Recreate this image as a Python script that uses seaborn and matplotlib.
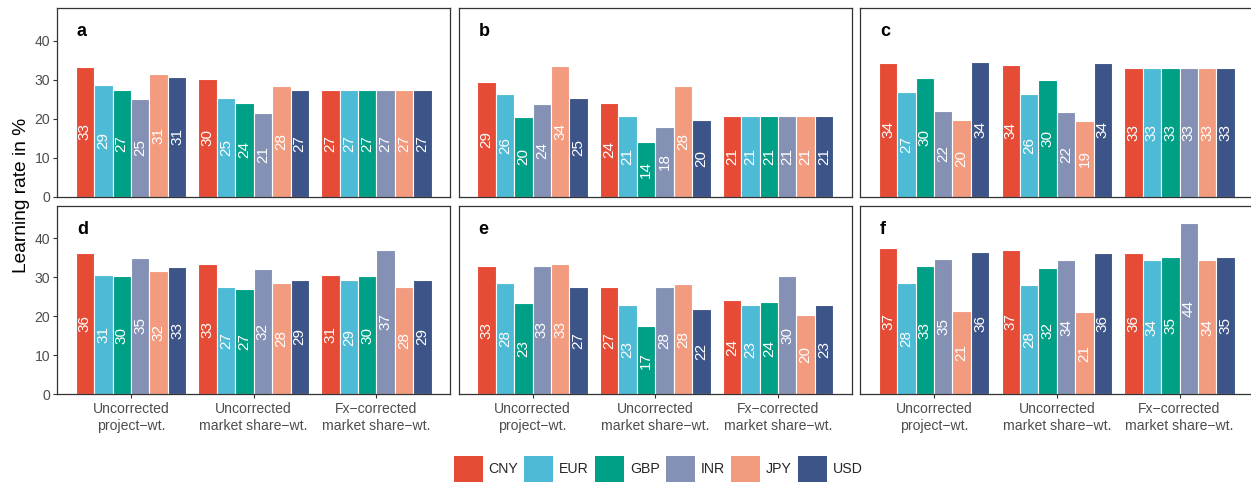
import matplotlib
matplotlib.use("Agg")
import matplotlib.pyplot as plt
from matplotlib.patches import Patch
import pandas as pd
import seaborn as sns

# Categories
currencies = ["CNY", "EUR", "GBP", "INR", "JPY", "USD"]
weightings = [
    "Uncorrected\nproject\u2212wt.",
    "Uncorrected\nmarket share\u2212wt.",
    "Fx\u2212corrected\nmarket share\u2212wt.",
]
palette = ["#E64B35", "#4DBBD5", "#00A087", "#8491B4", "#F39B7F", "#3C5488"]

# Learning rates (%) per panel: one row per weighting scheme, one column per currency
panel_a = [
    [33.3, 28.7, 27.4, 24.9, 31.4, 30.7],
    [30.2, 25.4, 24.0, 21.4, 28.4, 27.4],
    [27.4, 27.4, 27.4, 27.4, 27.4, 27.4],
]
panel_b = [
    [29.4, 26.4, 20.4, 23.8, 33.6, 25.4],
    [24.0, 20.7, 14.0, 17.9, 28.4, 19.7],
    [20.7, 20.7, 20.7, 20.7, 20.7, 20.7],
]
panel_c = [
    [34.3, 26.9, 30.4, 22.0, 19.7, 34.4],
    [33.8, 26.4, 30.0, 21.6, 19.4, 34.3],
    [33.1, 33.1, 33.1, 33.1, 33.1, 33.1],
]
panel_d = [
    [36.3, 30.6, 30.2, 35.0, 31.6, 32.6],
    [33.3, 27.4, 26.9, 32.0, 28.4, 29.4],
    [30.7, 29.2, 30.2, 37.1, 27.6, 29.4],
]
panel_e = [
    [32.8, 28.4, 23.3, 33.0, 33.3, 27.4],
    [27.4, 22.8, 17.4, 27.6, 28.2, 21.8],
    [24.1, 22.8, 23.6, 30.2, 20.2, 22.8],
]
panel_f = [
    [37.4, 28.4, 32.8, 34.8, 21.4, 36.4],
    [37.1, 27.9, 32.4, 34.4, 21.0, 36.1],
    [36.3, 34.3, 35.3, 44.0, 34.4, 35.1],
]
panels = {"a": panel_a, "b": panel_b, "c": panel_c,
          "d": panel_d, "e": panel_e, "f": panel_f}

rows = []
for key, table in panels.items():
    for w, vals in zip(weightings, table):
        for cur, v in zip(currencies, vals):
            rows.append({"panel": key, "weighting": w, "currency": cur, "value": v})
df = pd.DataFrame(rows)

sns.set_style("white")
plt.rcParams["font.family"] = ["Liberation Sans", "DejaVu Sans"]

W_PX, H_PX = 1251, 483
fig = plt.figure(figsize=(W_PX / 100, H_PX / 100), dpi=100)

col_left = [57.3, 458.9, 860.4]
panel_w = 392.8
row_box = [(8.3, 196.5), (206.0, 394.0)]  # (top, bottom) in pixels
frame_col = "#333333"
tick_col = "#4D4D4D"

for i, key in enumerate(panels):
    r, c = divmod(i, 3)
    top, bottom = row_box[r]
    ax = fig.add_axes([col_left[c] / W_PX, (H_PX - bottom) / H_PX,
                       panel_w / W_PX, (bottom - top) / H_PX])
    sub = df[df["panel"] == key]
    sns.barplot(data=sub, x="weighting", y="value", hue="currency",
                order=weightings, hue_order=currencies, palette=palette,
                saturation=1, width=0.9, edgecolor="white", linewidth=0.8,
                errorbar=None, legend=False, ax=ax)
    for cont in ax.containers:
        ax.bar_label(cont, labels=[f"{v:.0f}" for v in cont.datavalues],
                     label_type="center", rotation=90, color="white",
                     fontsize=11)
    ax.set_xlim(-0.6, 2.6)
    ax.set_ylim(0, 48.3)
    ax.set_yticks([0, 10, 20, 30, 40])
    ax.set_xlabel("")
    ax.set_ylabel("")
    for sp in ax.spines.values():
        sp.set_visible(True)
        sp.set_color(frame_col)
        sp.set_linewidth(0.9)
    ax.tick_params(axis="both", length=3, width=0.8, color=frame_col,
                   labelcolor=tick_col, labelsize=10.1, pad=2)
    ax.tick_params(axis="x", pad=3)
    if c > 0:
        ax.tick_params(axis="y", left=False, labelleft=False)
    else:
        ax.tick_params(axis="y", left=True)
    if r == 0:
        ax.tick_params(axis="x", bottom=False, labelbottom=False)
    else:
        ax.tick_params(axis="x", bottom=True)
    ax.text(0.05, 0.877, key, transform=ax.transAxes, fontweight="bold",
            fontsize=13, ha="left", va="center", color="black")

fig.text(22 / W_PX, 1 - 195 / H_PX, "Learning rate in %", rotation=90,
         ha="center", va="center", fontsize=13.8, color="black")

handles = [Patch(facecolor=col, edgecolor="none") for col in palette]
fig.legend(handles, currencies, loc="center",
           bbox_to_anchor=(658 / W_PX, 14 / H_PX), ncol=6, frameon=False,
           fontsize=10.2, handlelength=2.05, handleheight=2.5,
           handletextpad=0.42, columnspacing=0.42, borderpad=0,
           borderaxespad=0)

fig.savefig("out.png", dpi=100)
